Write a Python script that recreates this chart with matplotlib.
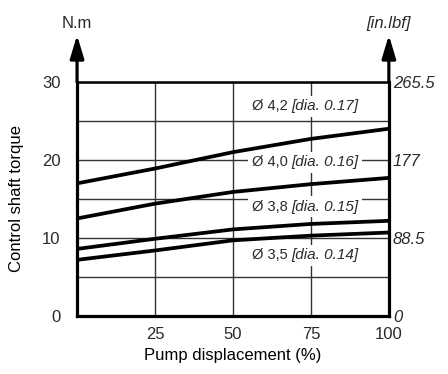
import matplotlib
matplotlib.use('Agg')
import matplotlib.pyplot as plt

plt.rcParams['font.family'] = ['Liberation Sans', 'DejaVu Sans']

# pump displacement (%) and control shaft torque (N.m) per orifice
displacement = [0, 25, 50, 75, 100]
torque_42 = [17.0, 18.9, 21.0, 22.7, 24.0]
torque_40 = [12.5, 14.4, 15.9, 16.9, 17.7]
torque_38 = [8.6, 9.9, 11.1, 11.8, 12.2]
torque_35 = [7.2, 8.4, 9.7, 10.3, 10.7]

curve_labels = [('Ø 4,2', '[dia. 0.17]', 26.9),
                ('Ø 4,0', '[dia. 0.16]', 19.7),
                ('Ø 3,8', '[dia. 0.15]', 14.0),
                ('Ø 3,5', '[dia. 0.14]', 7.8)]

x_ticks = [25, 50, 75, 100]
nm_ticks = [0, 10, 20, 30]
inlbf_labels = ['0', '88.5', '177', '265.5']

txt = '#2a2a2a'

fig = plt.figure(figsize=(4.48, 3.74), dpi=100)
ax = fig.add_axes([0.172, 0.155, 0.696, 0.626])
ax.set_xlim(0, 100)
ax.set_ylim(0, 30)

# grid
ax.set_yticks(range(0, 31, 5))
ax.set_yticklabels([str(v) if v in nm_ticks else '' for v in range(0, 31, 5)])
ax.set_xticks(x_ticks)
ax.set_xticklabels([str(v) for v in x_ticks])
ax.grid(True, color='#333333', lw=1.0, zorder=1)
ax.set_axisbelow(True)
ax.tick_params(length=0, labelsize=12, labelcolor=txt)
ax.tick_params(axis='y', pad=12)
ax.tick_params(axis='x', pad=8)

for s in ['left', 'right', 'bottom']:
    ax.spines[s].set_linewidth(2.3)
ax.spines['top'].set_linewidth(1.8)

for t in [torque_42, torque_40, torque_38, torque_35]:
    ax.plot(displacement, t, color='black', lw=2.7, solid_capstyle='butt', zorder=4)

# orifice labels: upright diameter, italic inch value
split = 68.8
for main, dia, yv in curve_labels:
    ax.text(split, yv, main + ' ', ha='right', va='center', fontsize=10.5,
            color=txt, zorder=3,
            bbox=dict(facecolor='white', edgecolor='none', pad=2.5))
    ax.text(split, yv, dia, ha='left', va='center', fontsize=11,
            color=txt, fontstyle='italic', zorder=3,
            bbox=dict(facecolor='white', edgecolor='none', pad=2.5))

ax2 = ax.twinx()
ax2.set_ylim(0, 30)
ax2.set_yticks(nm_ticks)
ax2.set_yticklabels(inlbf_labels, fontstyle='italic')
ax2.tick_params(length=0, labelsize=12, labelcolor=txt, pad=3)
for s in ax2.spines.values():
    s.set_visible(False)

# axis arrows
for xf in (0, 1):
    ax.annotate('', xy=(xf, 1.2), xytext=(xf, 1.0), xycoords='axes fraction',
                arrowprops=dict(arrowstyle='-|>,head_length=1.0,head_width=0.3',
                                mutation_scale=14, lw=2.3, color='black',
                                shrinkA=0, shrinkB=0))

ax.text(0, 1.25, 'N.m', transform=ax.transAxes, ha='center', va='center',
        fontsize=12, color=txt)
ax.text(1, 1.25, '[in.lbf]', transform=ax.transAxes, ha='center', va='center',
        fontsize=12, color=txt, fontstyle='italic')

ax.set_xlabel('Pump displacement (%)', fontsize=12, color='black', labelpad=4)
ax.set_ylabel('Control shaft torque', fontsize=12, color='black', labelpad=13)

fig.savefig('out.png', dpi=100, facecolor='white')
